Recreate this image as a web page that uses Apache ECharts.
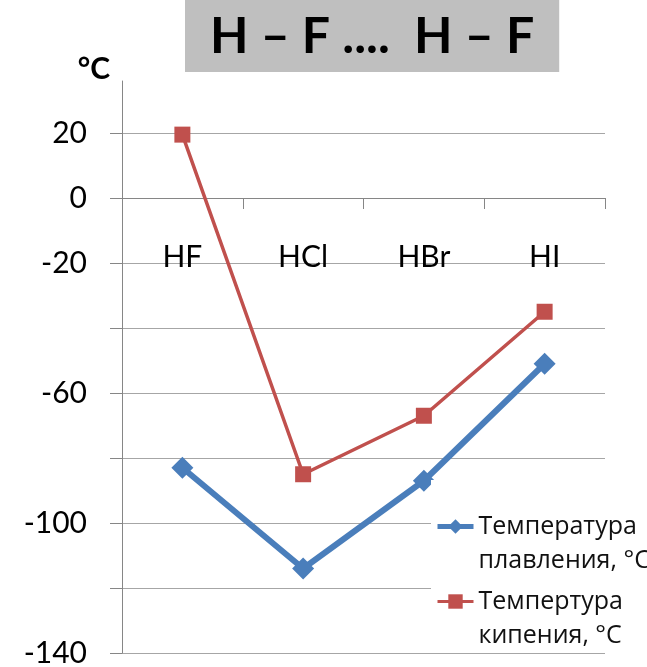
<!DOCTYPE html>
<html><head><meta charset="utf-8">
<script src="https://cdn.jsdelivr.net/npm/echarts@6/dist/echarts.min.js"></script>
<style>html,body{margin:0;padding:0;background:#fff}#c{width:647px;height:667px}</style>
</head><body><div id="c"></div>
<script>
const titleText = 'H – F ....  H – F';
const unitLabel = '°C';
const categories = ['HF', 'HCl', 'HBr', 'HI'];
const meltingName = 'Температура плавления';
const boilingName = 'Темпертура кипения';
const meltingPoints = [-83, -114, -87, -51];
const boilingPoints = [19.5, -85, -67, -35];
const yTickLabels = [20, 0, -20, -60, -100, -140];
const legendLines = {
  [meltingName]: ['Температура', 'плавления, °С'],
  [boilingName]: ['Темпертура', 'кипения, °С']
};

const chart = echarts.init(document.getElementById('c'), null, {renderer: 'canvas'});
const font = 'Lato';
const gridTop = 81, gridBottom = 14;
const yMin = -140, yMax = 36;
// distance from grid top to the zero line, so the category axis sits on 0
const zeroOffset = (667 - gridTop - gridBottom) * (yMax - 0) / (yMax - yMin);
chart.setOption({
  animation: false,
  backgroundColor: '#fff',
  title: {
    text: titleText,
    left: 185, top: 0,
    padding: [9, 25, 8, 25],
    backgroundColor: '#bfbfbf',
    textStyle: {fontSize: 50, fontWeight: 'bold', fontFamily: font, color: '#000', lineHeight: 55}
  },
  grid: {left: 122, right: 42, top: gridTop, bottom: gridBottom, containLabel: false, outerBoundsMode: 'none'},
  legend: {
    orient: 'vertical',
    left: 431, top: 480,
    itemWidth: 36, itemHeight: 18, itemGap: -18,
    padding: [0, 6, 0, 4],
    backgroundColor: '#fff',
    data: [
      {name: meltingName, lineStyle: {width: 5}},
      {name: boilingName, lineStyle: {width: 3}}
    ],
    formatter: function (name) {
      const l = legendLines[name];
      return '{z| }\n{a|' + l[0] + '}\n{b|' + l[1] + '}';
    },
    textStyle: {
      fontFamily: 'Open Sans', fontSize: 25, color: '#111',
      rich: {
        z: {fontFamily: 'Open Sans', fontSize: 25, lineHeight: 26, color: '#111'},
        a: {fontFamily: 'Open Sans', fontSize: 25, lineHeight: 42, color: '#111'},
        b: {fontFamily: 'Open Sans', fontSize: 25, lineHeight: 26, color: '#111'}
      }
    }
  },
  xAxis: {
    type: 'category',
    data: categories,
    boundaryGap: true,
    position: 'top',
    offset: -zeroOffset,
    axisLine: {show: true, onZero: false, lineStyle: {color: '#868686', width: 1}},
    axisTick: {show: true, inside: true, length: 11, lineStyle: {color: '#868686'}},
    axisLabel: {inside: true, margin: 44, fontSize: 30, fontFamily: font, color: '#000', verticalAlign: 'top'},
    splitLine: {show: false}
  },
  yAxis: {
    type: 'value',
    min: yMin, max: yMax, interval: 20,
    name: unitLabel,
    nameLocation: 'end',
    nameGap: -3,
    nameTextStyle: {fontSize: 30, fontWeight: 'bold', fontFamily: font, color: '#000', align: 'right', padding: [0, 12, 0, 0]},
    axisLine: {show: true, onZero: false, lineStyle: {color: '#868686', width: 1}},
    axisTick: {show: true, length: 12, lineStyle: {color: '#868686'}},
    axisLabel: {
      margin: 35, fontSize: 30, fontFamily: font, color: '#000',
      showMaxLabel: false, showMinLabel: true, hideOverlap: false,
      formatter: function (v) { return yTickLabels.indexOf(v) >= 0 ? String(v) : ''; }
    },
    splitLine: {show: true, showMaxLine: false, showMinLine: true, lineStyle: {color: '#a6a6a6', width: 1}}
  },
  series: [
    {
      name: meltingName, type: 'line', data: meltingPoints,
      symbol: 'diamond', symbolSize: 22,
      itemStyle: {color: '#4a7ebb'},
      lineStyle: {color: '#4a7ebb', width: 6},
      z: 3
    },
    {
      name: boilingName, type: 'line', data: boilingPoints,
      symbol: 'rect', symbolSize: 16,
      itemStyle: {color: '#c0504d'},
      lineStyle: {color: '#c0504d', width: 3.5},
      z: 4
    }
  ]
});
</script></body></html>
